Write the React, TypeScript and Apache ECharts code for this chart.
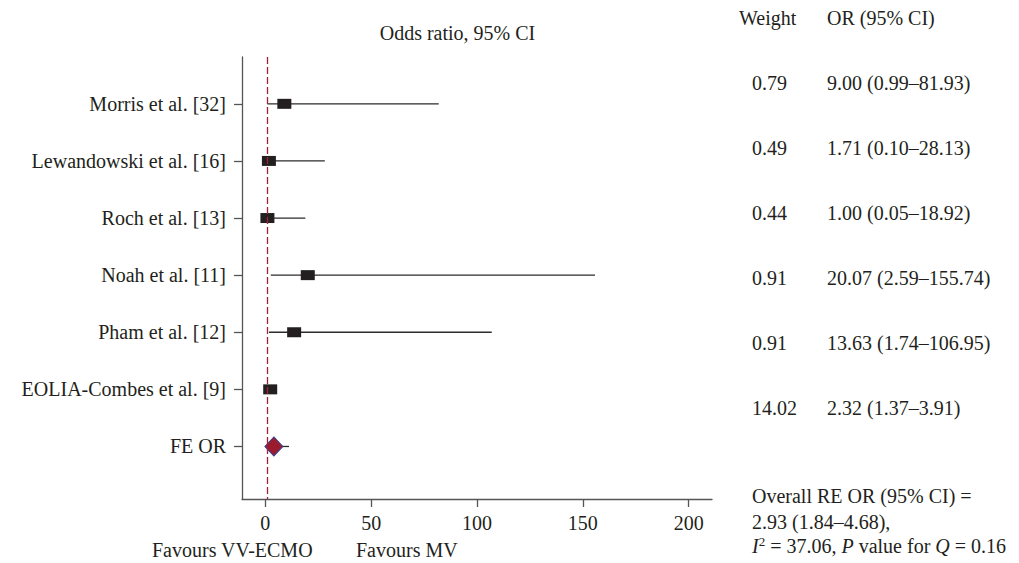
import React, { useEffect, useRef } from 'react';
import * as echarts from 'echarts';

const studies = [
  'Morris et al. [32]',
  'Lewandowski et al. [16]',
  'Roch et al. [13]',
  'Noah et al. [11]',
  'Pham et al. [12]',
  'EOLIA-Combes et al. [9]',
  'FE OR',
];
const oddsRatio = [9.0, 1.71, 1.0, 20.07, 13.63, 2.32, 4.06];
const ciLower = [0.99, 0.1, 0.05, 2.59, 1.74, 1.37, 1.5];
const ciUpper = [81.93, 28.13, 18.92, 155.74, 106.95, 3.91, 11.2];
const weights = ['0.79', '0.49', '0.44', '0.91', '0.91', '14.02'];
const orLabels = [
  '9.00 (0.99–81.93)',
  '1.71 (0.10–28.13)',
  '1.00 (0.05–18.92)',
  '20.07 (2.59–155.74)',
  '13.63 (1.74–106.95)',
  '2.32 (1.37–3.91)',
];
const xTicks = [0, 50, 100, 150, 200];
const nullValue = 1;
const title = 'Odds ratio, 95% CI';
const headerWeight = 'Weight';
const headerOR = 'OR (95% CI)';
const overallLine1 = 'Overall RE OR (95% CI) =';
const overallLine2 = '2.93 (1.84–4.68),';
const i2Value = '37.06';
const qPValue = '0.16';
const favourLeft = 'Favours VV-ECMO';
const favourRight = 'Favours MV';

const FONT = "'Liberation Serif', 'DejaVu Serif', serif";
const TXT = '#231f20';

export default function App() {
  const ref = useRef<HTMLDivElement>(null);
  useEffect(() => {
    if (!ref.current) return;
    const chart = echarts.init(ref.current, undefined, { renderer: 'svg' });
    const rowIdx = studies.map((_, i) => i);
    const txt = (x: number, y: number, text: string, align = 'left') => ({
      type: 'text',
      x,
      y,
      style: {
        text,
        font: `20px ${FONT}`,
        fill: TXT,
        textAlign: align,
        textVerticalAlign: 'middle',
      },
    });
    const graphics: any[] = [
      txt(457.5, 33, title, 'center'),
      txt(739, 18, headerWeight),
      txt(827, 18, headerOR),
      ...weights.map((w, i) => txt(752, 83 + i * 65, w)),
      ...orLabels.map((o, i) => txt(827, 83 + i * 65, o)),
      txt(752, 496, overallLine1),
      txt(752, 522, overallLine2),
      {
        type: 'text',
        x: 752,
        y: 546,
        style: {
          text: `{i|I}{sup|2}{n| = ${i2Value}, }{i|P}{n| value for }{i|Q}{n| = ${qPValue}}`,
          textVerticalAlign: 'middle',
          rich: {
            i: { fontFamily: FONT, fontSize: 20, fontStyle: 'italic', fill: TXT, color: TXT },
            n: { fontFamily: FONT, fontSize: 20, fill: TXT, color: TXT },
            sup: { fontFamily: FONT, fontSize: 13, fill: TXT, color: TXT, verticalAlign: 'top', padding: [0, 0, 10, 0] },
          },
        },
      },
      txt(152, 550, favourLeft),
      txt(356, 550, favourRight),
    ];

    chart.setOption({
      animation: false,
      grid: { left: 242, right: 307, top: 57, bottom: 64 },
      xAxis: {
        type: 'value',
        min: -11,
        max: 211,
        axisLine: { show: true, onZero: false, lineStyle: { color: '#555', width: 1.3 } },
        axisTick: { show: true, length: 8, customValues: xTicks, lineStyle: { color: '#555', width: 1.3 } },
        axisLabel: { customValues: xTicks, fontFamily: FONT, fontSize: 20, color: TXT, margin: 14 },
        splitLine: { show: false },
      },
      yAxis: {
        type: 'value',
        inverse: true,
        min: -0.82,
        max: 6.92,
        axisLine: { show: true, onZero: false, lineStyle: { color: '#555', width: 1.3 } },
        axisTick: { show: true, length: 8, customValues: rowIdx, lineStyle: { color: '#555', width: 1.3 } },
        axisLabel: {
          customValues: rowIdx,
          formatter: (v: number) => studies[Math.round(v)] ?? '',
          fontFamily: FONT,
          fontSize: 20,
          color: TXT,
          margin: 16,
        },
        splitLine: { show: false },
      },
      graphic: graphics,
      series: [
        {
          type: 'custom',
          z: 1,
          data: rowIdx.map((i) => [ciLower[i], ciUpper[i], i]),
          renderItem: (params: any, api: any) => {
            const a = api.coord([api.value(0), api.value(2)]);
            const b = api.coord([api.value(1), api.value(2)]);
            return {
              type: 'line',
              shape: { x1: a[0], y1: a[1], x2: b[0], y2: b[1] },
              style: { stroke: '#2b2b2b', lineWidth: 1.3 },
            };
          },
          markLine: {
            silent: true,
            symbol: ['none', 'none'],
            label: { show: false },
            lineStyle: { type: [7, 3], color: '#a3203a', width: 1.3 },
            data: [{ xAxis: nullValue }],
          },
        },
        {
          type: 'scatter',
          z: 3,
          symbol: 'rect',
          symbolSize: [14, 10],
          itemStyle: { color: '#231f20', opacity: 1 },
          data: rowIdx.slice(0, 6).map((i) => [oddsRatio[i], i]),
        },
        {
          type: 'scatter',
          z: 4,
          symbol: 'diamond',
          symbolSize: [18, 19],
          itemStyle: { color: '#9b1b2e', borderColor: '#3d3f8c', borderWidth: 1, opacity: 1 },
          data: [[oddsRatio[6], 6]],
        },
      ],
    });
    return () => chart.dispose();
  }, []);
  return (
    <div
      ref={ref}
      style={{ position: 'fixed', left: 0, top: 0, width: 1019, height: 563, background: '#fff' }}
    />
  );
}
